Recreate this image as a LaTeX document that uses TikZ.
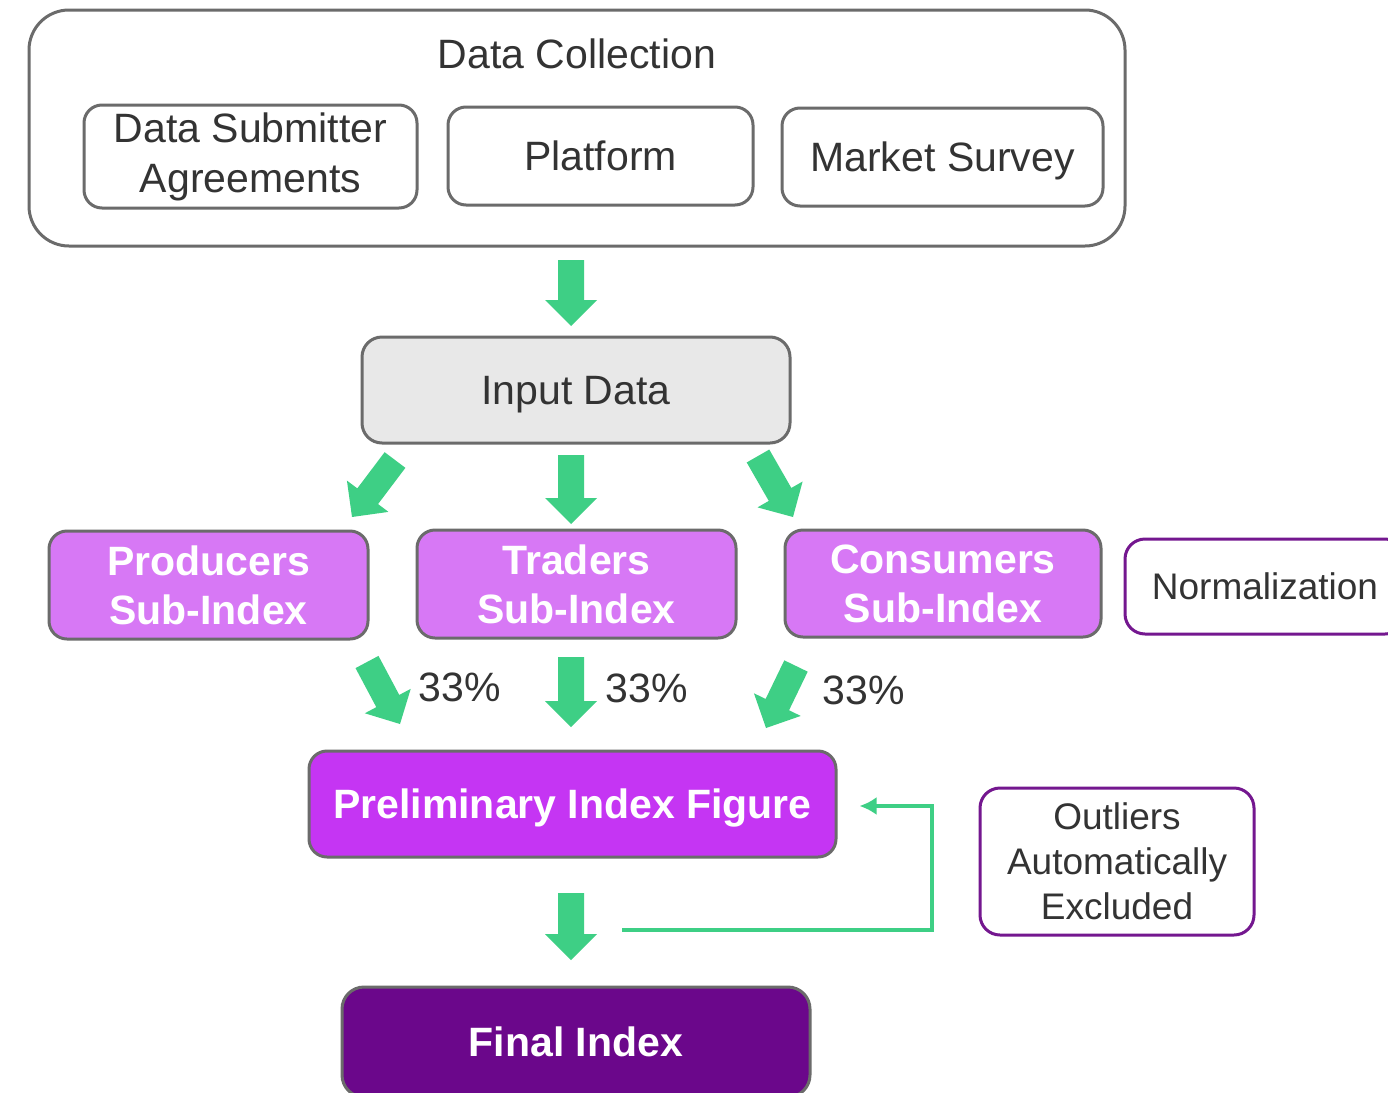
\documentclass[tikz,border=0pt]{standalone}
\usepackage{fontspec}
\setmainfont{Liberation Sans}
\usetikzlibrary{calc,arrows.meta}
\definecolor{agreen}{HTML}{3ECF85}
\definecolor{bordergray}{HTML}{6B6B6B}
\definecolor{textdark}{HTML}{333333}
\definecolor{inputfill}{HTML}{E8E8E8}
\definecolor{subfill}{HTML}{D778F5}
\definecolor{prelimfill}{HTML}{C535F3}
\definecolor{finalfill}{HTML}{6B078B}
\definecolor{purpleline}{HTML}{74178F}
\tikzset{
  box/.style={draw=bordergray, line width=3pt, rounded corners=18pt, inner sep=0pt,
    align=center, text=textdark, font=\fontsize{41}{50}\selectfont},
  subbox/.style={box, fill=subfill, text=white, font=\fontsize{41}{49}\selectfont\bfseries},
  notebox/.style={draw=purpleline, line width=3pt, rounded corners=20pt, inner sep=0pt,
    align=center, text=textdark, font=\fontsize{37}{45}\selectfont},
  plain/.style={inner sep=0pt, text=textdark, font=\fontsize{41}{50}\selectfont},
  fb/.style={draw=agreen, line width=4pt, -{Latex[length=17pt,width=18pt]}}
}
\newcommand\barrow[2]{%
  \path let \p1=($(#2)-(#1)$) in \pgfextra{%
    \pgfmathsetmacro\arangtmp{atan2(\y1,\x1)}%
    \pgfmathsetmacro\arlentmp{veclen(\x1,\y1)}%
    \global\let\arang\arangtmp \global\let\arlen\arlentmp};
  \fill[agreen, shift={(#1)}, rotate=\arang]
    (0,-13) -- ({\arlen-26},-13) -- ({\arlen-26},-26) -- (\arlen,0)
    -- ({\arlen-26},26) -- ({\arlen-26},13) -- (0,13) -- cycle;
}
\begin{document}
\begin{tikzpicture}[x=1pt,y=-1pt]
\path[use as bounding box, clip] (0,0) rectangle (1388,1092);
\fill[white] (0,0) rectangle (1388,1092);

% Data collection group
\node[box, rounded corners=40pt, minimum width=1096pt, minimum height=236pt] (dc) at (577,128) {};
\node[plain] (dct) at (577,54) {Data Collection};
\node[box, minimum width=333pt, minimum height=103pt] (dsa) at (250.5,156.5) {Data Submitter\\Agreements};
\node[box, minimum width=305pt, minimum height=98pt] (plat) at (600.5,156) {Platform};
\node[box, text depth=0pt, minimum width=321pt, minimum height=98pt] (ms) at (942.5,157) {Market Survey};

% Input data
\node[box, text depth=0pt, fill=inputfill, rounded corners=20pt, minimum width=428pt, minimum height=106pt] (input) at (576,390) {Input Data};

% Sub-indices
\node[subbox, minimum width=319pt, minimum height=108pt] (prod) at (208.5,585) {Producers\\Sub-Index};
\node[subbox, minimum width=319pt, minimum height=108pt] (trad) at (576.5,584) {Traders\\Sub-Index};
\node[subbox, minimum width=316pt, minimum height=107pt] (cons) at (943,583.5) {Consumers\\Sub-Index};
\node[notebox, minimum width=280pt, minimum height=95pt] (norm) at (1265,586.5) {Normalization};

% Percent labels
\node[plain] (p1) at (460,687) {33\%};
\node[plain] (p2) at (647,688) {33\%};
\node[plain] (p3) at (864,690) {33\%};

% Preliminary index
\node[box, text depth=0pt, fill=prelimfill, text=white, font=\fontsize{41}{49}\selectfont\bfseries,
  minimum width=527pt, minimum height=106pt] (prelim) at (572.5,804) {Preliminary Index Figure};
\node[notebox, minimum width=274pt, minimum height=147pt] (outl) at (1117,861.5) {Outliers\\Automatically\\Excluded};

% Final index
\node[box, fill=finalfill, text=white, font=\fontsize{41}{49}\selectfont\bfseries,
  rounded corners=22pt, minimum width=468pt, minimum height=110pt] (final) at (576,1042) {Final Index};

% Block arrow coordinates
\coordinate (a0s) at (571,260); \coordinate (a0e) at (571,326);
\coordinate (a1s) at (395,460); \coordinate (a1e) at (352,517);
\coordinate (a2s) at (571,455); \coordinate (a2e) at (571,524);
\coordinate (a3s) at (758,456); \coordinate (a3e) at (793,517);
\coordinate (b1s) at (367,662); \coordinate (b1e) at (400,724);
\coordinate (b2s) at (571,657); \coordinate (b2e) at (571,727);
\coordinate (b3s) at (796,666); \coordinate (b3e) at (766,728);
\coordinate (cs) at (571,893); \coordinate (ce) at (571,960);

\barrow{a0s}{a0e}
\barrow{a1s}{a1e}
\barrow{a2s}{a2e}
\barrow{a3s}{a3e}
\barrow{b1s}{b1e}
\barrow{b2s}{b2e}
\barrow{b3s}{b3e}
\barrow{cs}{ce}

% Feedback loop
\coordinate (fbs) at (622,930);
\coordinate (fbc) at (932,930);
\draw[fb] (fbs) -- (fbc) |- ([xshift=22pt,yshift=-2pt]prelim.east);
\end{tikzpicture}
\end{document}
